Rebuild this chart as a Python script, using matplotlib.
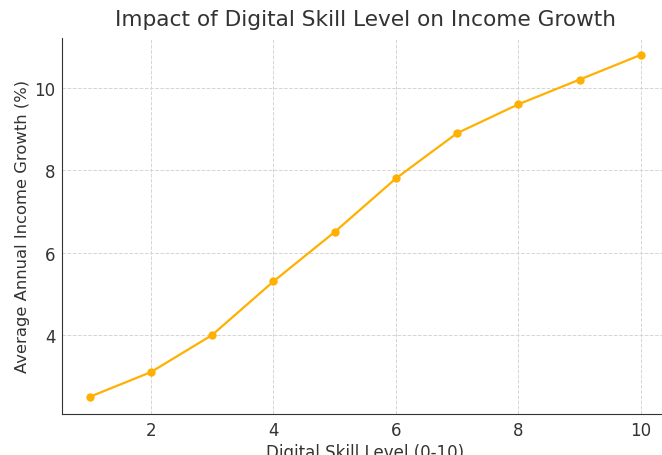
import matplotlib.pyplot as plt

skill_level = [1, 2, 3, 4, 5, 6, 7, 8, 9, 10]
income_growth = [2.5, 3.1, 4.0, 5.3, 6.5, 7.8, 8.9, 9.6, 10.2, 10.8]

text_color = '#333333'

fig = plt.figure(figsize=(6.62, 4.56), dpi=100)
ax = fig.add_axes([0.0937, 0.09, 0.916, 0.825])
ax.plot(skill_level, income_growth, marker='o', color='#FFB000', linewidth=1.6, markersize=5)
ax.set_title('Impact of Digital Skill Level on Income Growth', fontsize=15.6, color=text_color, pad=9)
ax.set_xlabel('Digital Skill Level (0-10)', fontsize=12, color=text_color, labelpad=3)
ax.set_ylabel('Average Annual Income Growth (%)', fontsize=11.8, color=text_color, labelpad=3)
ax.grid(True, linestyle='--', color='#d5d5d5', linewidth=0.7)
ax.spines['top'].set_visible(False)
ax.spines['right'].set_visible(False)
ax.spines['left'].set_color(text_color)
ax.spines['bottom'].set_color(text_color)
ax.tick_params(colors=text_color, labelsize=12, length=0, pad=4.8)
fig.savefig('out.png', dpi=100)
